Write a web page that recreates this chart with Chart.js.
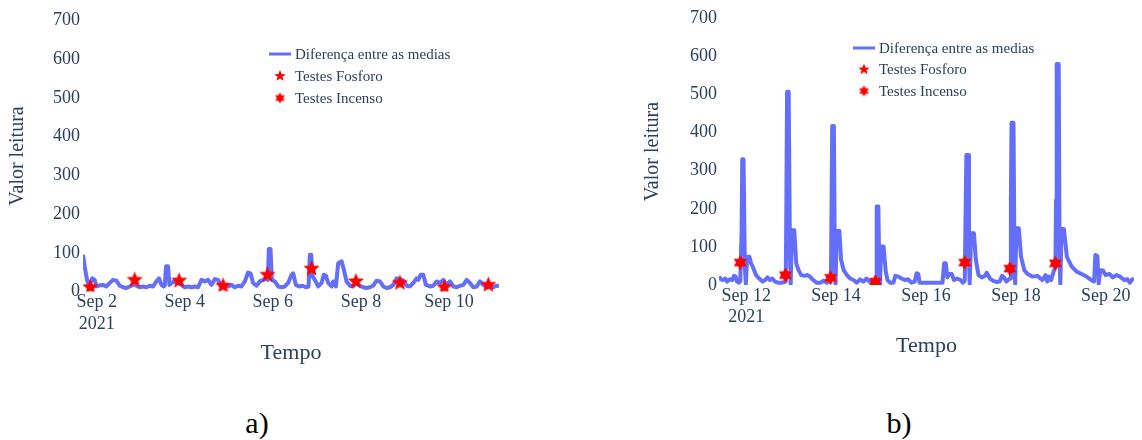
<!DOCTYPE html>
<html>
<head>
<meta charset="utf-8">
<script src="https://cdn.jsdelivr.net/npm/chart.js@4.4.1/dist/chart.umd.min.js"></script>
<style>
  body { margin: 0; background: #fff; }
  #wrap { position: relative; width: 1142px; height: 440px; overflow: hidden; }
  canvas { position: absolute; top: 0; }
  .tag { position: absolute; top: 406px; font: 30px "Liberation Serif", serif; color: #000; transform: translateX(-50%); }
</style>
</head>
<body>
<div id="wrap">
  <canvas id="chartA" width="560" height="380" style="left:0"></canvas>
  <canvas id="chartB" width="562" height="380" style="left:580px"></canvas>
  <div class="tag" style="left:257px">a)</div>
  <div class="tag" style="left:899px">b)</div>
</div>
<script>
// a) Sep 1 - Sep 11 (x = day of month)
const timesA = [1.689, 1.727, 1.780, 1.826, 1.856, 1.902, 1.955, 1.992, 2.068, 2.144, 2.220, 2.295, 2.371, 2.447, 2.523, 2.598, 2.674, 2.750, 2.826, 2.864, 2.902, 2.977, 3.053, 3.129, 3.205, 3.280, 3.356, 3.417, 3.470, 3.523, 3.545, 3.576, 3.621, 3.652, 3.697, 3.773, 3.848, 3.924, 4.0, 4.076, 4.152, 4.227, 4.303, 4.379, 4.455, 4.530, 4.606, 4.682, 4.758, 4.833, 4.909, 4.985, 5.061, 5.136, 5.212, 5.288, 5.364, 5.439, 5.492, 5.553, 5.629, 5.705, 5.780, 5.856, 5.886, 5.909, 5.947, 5.977, 6.045, 6.121, 6.197, 6.273, 6.348, 6.424, 6.462, 6.523, 6.598, 6.674, 6.750, 6.811, 6.841, 6.871, 6.902, 6.955, 7.030, 7.106, 7.159, 7.205, 7.258, 7.333, 7.371, 7.432, 7.485, 7.561, 7.614, 7.674, 7.750, 7.826, 7.902, 7.977, 8.053, 8.129, 8.205, 8.280, 8.356, 8.432, 8.508, 8.583, 8.659, 8.735, 8.811, 8.886, 8.962, 9.038, 9.114, 9.189, 9.265, 9.303, 9.356, 9.417, 9.477, 9.568, 9.644, 9.720, 9.795, 9.871, 9.947, 10.023, 10.098, 10.174, 10.250, 10.326, 10.402, 10.477, 10.553, 10.629, 10.705, 10.780, 10.856, 10.932, 11.008, 11.083, 11.136];
const diffA = [95, 65, 30, 15, 22, 34, 30, 13, 16, 17, 13, 22, 30, 28, 15, 11, 9, 13, 17, 26, 15, 11, 13, 11, 15, 13, 26, 34, 17, 13, 15, 65, 65, 17, 22, 26, 22, 17, 11, 13, 11, 13, 11, 30, 26, 30, 17, 32, 30, 11, 17, 13, 17, 11, 15, 13, 26, 49, 47, 22, 15, 26, 30, 34, 30, 110, 110, 30, 26, 13, 11, 13, 22, 43, 47, 17, 13, 15, 11, 13, 95, 95, 39, 30, 13, 22, 43, 41, 22, 13, 26, 13, 73, 78, 56, 26, 15, 13, 22, 15, 11, 9, 11, 15, 28, 26, 13, 9, 11, 17, 34, 32, 28, 15, 13, 22, 34, 30, 43, 43, 17, 13, 15, 26, 22, 30, 17, 26, 13, 11, 15, 17, 30, 22, 11, 13, 26, 17, 11, 15, 11, 15, 13];
const fosforoTimes = [1.856, 2.864, 3.871, 4.871, 5.879, 6.879, 7.886, 8.886, 9.894, 10.894];
const fosforoValues = [11, 30, 28, 15, 43, 59, 26, 22, 11, 17];

// b) Sep 11 - Sep 20
const timesB = [11.396, 11.440, 11.491, 11.534, 11.578, 11.636, 11.694, 11.731, 11.767, 11.796, 11.840, 11.869, 11.898, 11.913, 11.942, 11.971, 11.993, 12.022, 12.073, 12.109, 12.146, 12.218, 12.291, 12.364, 12.422, 12.473, 12.524, 12.582, 12.640, 12.713, 12.786, 12.852, 12.881, 12.895, 12.910, 12.946, 12.975, 12.990, 13.019, 13.070, 13.114, 13.165, 13.223, 13.296, 13.354, 13.419, 13.492, 13.565, 13.652, 13.725, 13.798, 13.849, 13.886, 13.900, 13.914, 13.951, 13.972, 13.987, 14.016, 14.074, 14.111, 14.169, 14.242, 14.315, 14.387, 14.460, 14.533, 14.606, 14.678, 14.736, 14.802, 14.853, 14.889, 14.904, 14.940, 14.962, 14.977, 15.005, 15.057, 15.100, 15.144, 15.202, 15.275, 15.318, 15.384, 15.457, 15.529, 15.602, 15.675, 15.748, 15.792, 15.828, 15.857, 16.367, 16.403, 16.440, 16.476, 16.512, 16.571, 16.622, 16.694, 16.767, 16.818, 16.862, 16.884, 16.898, 16.935, 16.956, 16.971, 17.007, 17.066, 17.109, 17.168, 17.240, 17.313, 17.349, 17.422, 17.495, 17.568, 17.640, 17.691, 17.735, 17.786, 17.844, 17.873, 17.888, 17.902, 17.946, 17.968, 17.983, 18.012, 18.063, 18.114, 18.186, 18.259, 18.368, 18.477, 18.587, 18.659, 18.696, 18.732, 18.783, 18.827, 18.856, 18.878, 18.892, 18.907, 18.951, 18.972, 18.987, 19.016, 19.067, 19.133, 19.242, 19.351, 19.461, 19.570, 19.680, 19.738, 19.767, 19.811, 19.840, 19.876, 19.935, 19.993, 20.080, 20.153, 20.240, 20.313, 20.408, 20.480, 20.531, 20.590, 20.626];
const diffB = [22, 15, 13, 17, 9, 15, 13, 24, 22, 9, 6, 10, 136, 330, 330, 48, 3, 74, 74, 57, 48, 26, 17, 9, 13, 20, 13, 17, 9, 6, 6, 8, 9, 223, 507, 507, 66, 3, 144, 144, 57, 39, 26, 24, 26, 22, 13, 6, 6, 11, 6, 10, 15, 223, 417, 417, 66, 3, 142, 142, 66, 39, 26, 17, 13, 6, 15, 9, 17, 9, 6, 4, 6, 206, 206, 31, 4, 101, 101, 39, 13, 6, 6, 24, 22, 17, 13, 15, 6, 9, 31, 29, 6, 6, 57, 57, 20, 29, 29, 13, 17, 13, 6, 11, 223, 341, 341, 66, 3, 136, 136, 66, 26, 20, 24, 32, 17, 11, 8, 9, 24, 20, 9, 15, 17, 223, 426, 426, 66, 3, 149, 149, 74, 39, 29, 22, 24, 13, 26, 9, 22, 13, 31, 41, 48, 223, 580, 580, 66, 3, 147, 147, 74, 48, 35, 29, 22, 13, 9, 79, 76, 4, 39, 38, 26, 29, 20, 26, 22, 13, 15, 6, 15, 17];
const incensoTimes = [11.869, 12.873, 13.878, 14.875, 16.862, 17.866, 18.878];
const incensoValues = [59, 26, 19, 9, 59, 43, 57];

const ticksA = [2, 4, 6, 8, 10];
const ticksB = [12, 14, 16, 18, 20];
const tickLabelsA = ['Sep 2', 'Sep 4', 'Sep 6', 'Sep 8', 'Sep 10'];
const tickLabelsB = ['Sep 12', 'Sep 14', 'Sep 16', 'Sep 18', 'Sep 20'];
const yearLabel = '2021';

const TEXT = '#2a3f5f';
const BLUE = '#636efa';
const RED = '#ff0000';
Chart.defaults.font.family = '"Liberation Serif", "Times New Roman", serif';
Chart.defaults.color = TEXT;

// star marker drawn once into a small canvas
function starImage(points, outer, inner) {
  const c = document.createElement('canvas');
  const s = Math.ceil(outer * 2 + 2);
  c.width = s; c.height = s;
  const g = c.getContext('2d');
  g.translate(s / 2, s / 2);
  g.beginPath();
  for (let i = 0; i < points * 2; i++) {
    const r = i % 2 ? inner : outer;
    const a = -Math.PI / 2 + i * Math.PI / points;
    g.lineTo(r * Math.cos(a), r * Math.sin(a));
  }
  g.closePath();
  g.fillStyle = RED;
  g.fill();
  return c;
}
const star5 = starImage(5, 8.5, 3.8);
const star6 = starImage(6, 7.5, 4.4);
const star5Small = starImage(5, 6, 2.6);
const star6Small = starImage(6, 5.5, 3.2);

function toXY(xs, ys) {
  return xs.map((x, i) => ({ x: x, y: ys[i] }));
}

function insideLegend(pos, images) {
  return {
    id: 'insideLegend',
    afterDraw(chart) {
      const ctx = chart.ctx;
      ctx.save();
      ctx.font = '15px "Liberation Serif", serif';
      ctx.fillStyle = TEXT;
      ctx.textBaseline = 'middle';
      chart.data.datasets.forEach((ds, i) => {
        const y = pos.y + i * pos.row;
        if (i === 0) {
          ctx.strokeStyle = ds.borderColor;
          ctx.lineWidth = 3;
          ctx.beginPath();
          ctx.moveTo(pos.x, y);
          ctx.lineTo(pos.x + 22, y);
          ctx.stroke();
        } else {
          const img = images[i - 1];
          ctx.drawImage(img, pos.x + 11 - img.width / 2, y - img.height / 2);
        }
        ctx.fillText(ds.label, pos.x + 26, y + 1);
      });
      ctx.restore();
    }
  };
}

function makeChart(id, opts) {
  const ticks = opts.ticks;
  const labels = opts.tickLabels.map((l, i) => i === 0 ? [l, yearLabel] : l);
  return new Chart(document.getElementById(id), {
    type: 'line',
    data: {
      datasets: [
        {
          label: 'Diferença entre as medias',
          data: toXY(opts.times, opts.diff),
          borderColor: BLUE,
          borderWidth: 4,
          borderJoinStyle: 'round',
          pointRadius: 0,
          tension: 0,
          order: 3
        },
        {
          label: 'Testes Fosforo',
          data: opts.fosforo,
          showLine: false,
          pointStyle: star5,
          pointRadius: 8,
          order: 1
        },
        {
          label: 'Testes Incenso',
          data: opts.incenso,
          showLine: false,
          pointStyle: star6,
          pointRadius: 7,
          order: 1
        }
      ]
    },
    options: {
      responsive: false,
      animation: false,
      events: [],
      layout: { padding: { top: opts.top, right: opts.right, left: 0, bottom: 0 } },
      plugins: { legend: { display: false }, tooltip: { enabled: false } },
      scales: {
        x: {
          type: 'linear',
          min: opts.xMin,
          max: opts.xMax,
          grid: { display: false, drawTicks: false },
          border: { display: false },
          afterBuildTicks: (scale) => { scale.ticks = ticks.map(v => ({ value: v })); },
          afterFit: (scale) => { scale.height = opts.xHeight; },
          ticks: {
            autoSkip: false,
            maxRotation: 0,
            padding: 0,
            font: { size: 18 },
            callback: (value, index) => labels[index]
          },
          title: {
            display: true,
            text: 'Tempo',
            font: { size: 22 },
            padding: { top: 0, bottom: opts.xTitlePad }
          }
        },
        y: {
          min: 0,
          max: 700,
          grid: { display: false, drawTicks: false },
          border: { display: false },
          afterFit: (scale) => { scale.width = opts.yWidth; },
          ticks: { stepSize: 100, padding: opts.yTickPad, font: { size: 18 } },
          title: {
            display: true,
            text: 'Valor leitura',
            font: { size: 20 },
            padding: { top: opts.yTitlePad, bottom: 0 }
          }
        }
      }
    },
    plugins: [insideLegend(opts.legend, [star5Small, star6Small])]
  });
}

makeChart('chartA', {
  times: timesA, diff: diffA,
  fosforo: toXY(fosforoTimes, fosforoValues), incenso: [],
  ticks: ticksA, tickLabels: tickLabelsA,
  xMin: 1.689, xMax: 11.136,
  top: 20.5, right: 61, xHeight: 88.5, yWidth: 83,
  xTitlePad: 14, yTitlePad: 6, yTickPad: 3,
  legend: { x: 269, y: 54, row: 22 }
});

makeChart('chartB', {
  times: timesB, diff: diffB,
  fosforo: [], incenso: toXY(incensoTimes, incensoValues),
  ticks: ticksB, tickLabels: tickLabelsB,
  xMin: 11.396, xMax: 20.626,
  top: 18.3, right: 0, xHeight: 95, yWidth: 139,
  xTitlePad: 21, yTitlePad: 61, yTickPad: 2,
  legend: { x: 273, y: 48, row: 21.5 }
});
</script>
</body>
</html>
